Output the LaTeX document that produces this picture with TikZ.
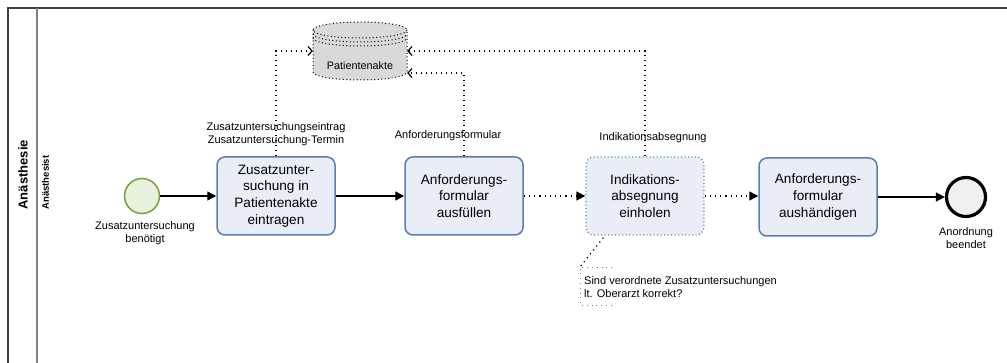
\documentclass[tikz,border=0pt]{standalone}
\usepackage{fontspec}
\setmainfont{Liberation Sans}
\usetikzlibrary{arrows.meta,calc}
\definecolor{taskfill}{HTML}{E9EEF6}
\definecolor{taskdraw}{HTML}{5A7DB2}
\definecolor{startfill}{HTML}{E9F2DF}
\definecolor{startdraw}{HTML}{77A03C}
\definecolor{endfill}{HTML}{F0F0F0}
\definecolor{dsfill}{HTML}{D9D9D9}
\definecolor{framecol}{HTML}{404040}
\definecolor{lanecol}{HTML}{808080}
\begin{document}
\begin{tikzpicture}[x=1pt,y=-1pt,
  task/.style={draw=taskdraw,fill=taskfill,line width=1.5pt,rounded corners=8pt,
    minimum width=118pt,minimum height=78pt,align=center,font=\fontsize{13.6}{16.8}\selectfont,inner sep=2pt},
  dtask/.style={task,draw=taskdraw,dash pattern=on 1pt off 2.5pt,line width=1.3pt},
  flow/.style={line width=1.4pt,-{Triangle[length=9pt,width=9pt]}},
  dflow/.style={line width=1.3pt,dash pattern=on 1.2pt off 4pt,-{Triangle[length=9pt,width=9pt]}},
  assoc/.style={line width=1.2pt,dash pattern=on 1.2pt off 3.8pt},
  lbl/.style={font=\fontsize{11}{13.5}\selectfont,align=center,inner sep=0pt},
  dsline/.style={line width=1pt,dash pattern=on 1pt off 2.5pt}
]
\useasboundingbox (0,0) rectangle (1007,363);
% pool / lane frame
\draw[framecol,line width=1.6pt] (1007,8) -- (8,8) -- (8,363);
\draw[lanecol,line width=1.3pt] (37,8) -- (37,363);
\node[rotate=90,font=\bfseries\fontsize{13}{15}\selectfont,anchor=west] (pool) at (23,213) {Anästhesie};
\node[rotate=90,font=\bfseries\fontsize{9.5}{11}\selectfont,anchor=west] (lane) at (45.5,213) {Anästhesist};

% events
\node[circle,draw=startdraw,fill=startfill,line width=1.5pt,minimum size=35pt,inner sep=0pt] (start) at (142,196) {};
\node[lbl] (startl) at (145,233) {Zusatzuntersuchung\\benötigt};
\node[circle,draw=black,fill=endfill,line width=3.2pt,minimum size=39pt,inner sep=0pt] (end) at (966,197) {};
\node[lbl] (endl) at (966,238) {Anordnung\\beendet};

% tasks
\node[task] (t1) at (276,196) {Zusatzunter-\\suchung in\\Patientenakte\\eintragen};
\node[task] (t2) at (464,196) {Anforderungs-\\formular\\ausfüllen};
\node[dtask] (t3) at (645,196) {Indikations-\\absegnung\\einholen};
\node[task] (t4) at (818,197) {Anforderungs-\\formular\\aushändigen};

% data store
\node[minimum width=94pt,minimum height=58pt,inner sep=0pt] (ds) at (360,51) {};
\fill[dsfill] (313,30) -- (313,72) arc[start angle=180,end angle=360,x radius=47,y radius=-8] -- (407,30) arc[start angle=0,end angle=180,x radius=47,y radius=-8] -- cycle;
\draw[dsline] (313,30) -- (313,72) arc[start angle=180,end angle=360,x radius=47,y radius=-8] -- (407,30);
\draw[dsline] (360,30) ellipse[x radius=47,y radius=8];
\draw[dsline] (313,34) arc[start angle=180,end angle=360,x radius=47,y radius=-8];
\draw[dsline] (313,38) arc[start angle=180,end angle=360,x radius=47,y radius=-8];
\node[font=\fontsize{10.8}{12}\selectfont] (dsl) at (360,66) {Patientenakte};

% sequence flows
\draw[flow] (start) -- (t1);
\draw[flow] (t1) -- (t2);
\draw[dflow] (t2) -- (t3);
\draw[dflow] (t3) -- (t4.west |- t3.east);
\draw[flow] (t4.east) -- (end.west |- t4.east);

% data associations
\coordinate (dsa) at (ds.west);
\coordinate (dsb) at (ds.east);
\coordinate (dsc) at ($(ds.east)+(0,22)$);
\draw[assoc,-{Straight Barb[length=4pt,width=9pt]}] (t1.north) |- (dsa);
\draw[assoc,-{Straight Barb[length=4pt,width=9pt]}] (t3.north) |- (dsb);
\draw[assoc,-{Straight Barb[length=4pt,width=9pt]}] (t2.north) |- (dsc);
\node[lbl] (a1) at (276,134) {Zusatzuntersuchungseintrag\\Zusatzuntersuchung-Termin};
\node[lbl] (a2) at (448,136) {Anforderungsformular};
\node[lbl] (a3) at (653,138) {Indikationsabsegnung};

% annotation
\coordinate (ann) at (580,267);
\draw[assoc] ($(t3.south west)+(18,2)$) -- (ann);
\draw[lanecol,line width=0.8pt,dash pattern=on 0.8pt off 4pt] (612,267) -- (ann) -- (580,305) -- (612,305);
\node[lbl,align=left,anchor=west] (annt) at (584,287) {Sind verordnete Zusatzuntersuchungen\\lt. Oberarzt korrekt?};
\end{tikzpicture}
\end{document}
